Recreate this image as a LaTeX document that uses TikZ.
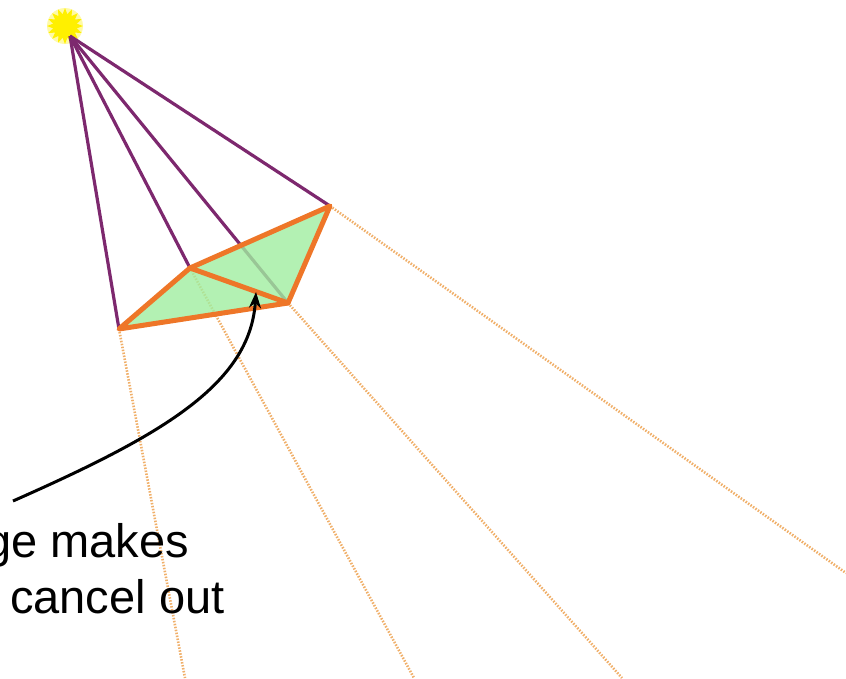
\documentclass[tikz,border=0pt]{standalone}
\usepackage{fontspec}
\setmainfont{Liberation Sans}
\usetikzlibrary{arrows.meta}
\definecolor{raypurple}{RGB}{125,40,110}
\definecolor{edgeorange}{RGB}{238,118,40}
\definecolor{dotorange}{RGB}{240,175,105}
\definecolor{facegreen}{RGB}{160,238,160}
\definecolor{sunyellow}{RGB}{255,240,0}
\tikzset{
  lightray/.style={draw=raypurple, line width=3.2pt},
  shadowray/.style={draw=dotorange, line width=2.6pt, dash pattern=on 1.5pt off 1.5pt},
  faceedge/.style={draw=edgeorange, line width=5pt, line join=round, line cap=round},
  pointer/.style={draw=black, line width=3pt, -{Stealth[length=16pt,width=12pt]}},
  caption/.style={font=\fontsize{47}{56}\selectfont, anchor=base west, inner sep=0pt}
}
\begin{document}
\begin{tikzpicture}[x=1pt,y=-1pt]
\useasboundingbox (0,0) rectangle (846,678);
\clip (0,0) rectangle (846,678);

% light source: a soft glow under a spiky star
\node[inner sep=0pt] (sun) at (65,26) {};
\begin{scope}[shift={(sun)}]
  \fill[sunyellow!35] (0,0) circle (18);
  \fill[sunyellow] (0:18)
    \foreach \a in {11.25,22.5,...,360} {
      -- (\a:{ifthenelse(mod(round(\a/11.25),2)==1,12,18)})
    } -- cycle;
\end{scope}
\coordinate (src) at (70,36);

% mesh vertices
\coordinate (vl) at (119,329);
\coordinate (vm) at (190,268);
\coordinate (vr) at (288,303);
\coordinate (vt) at (330,206);

% shadow rays beyond the mesh
\coordinate (el) at (185,678);
\coordinate (em) at (414,678);
\coordinate (er) at (622,678);
\coordinate (et) at (846,573);
\draw[shadowray] (vl) -- (el);
\draw[shadowray] (vm) -- (em);
\draw[shadowray] (vr) -- (er);
\draw[shadowray] (vt) -- (et);

% rays from the light to the vertices
\draw[lightray] (src) -- (vl);
\draw[lightray] (src) -- (vm);
\draw[lightray] (src) -- (vr);
\draw[lightray] (src) -- (vt);

% the two triangles
\fill[facegreen, fill opacity=0.8] (vl) -- (vm) -- (vt) -- (vr) -- cycle;
\draw[faceedge] (vl) -- (vm) -- (vt) -- (vr) -- cycle;
\draw[faceedge] (vm) -- (vr);

% caption and pointer
\coordinate (tail) at (13,501);
\coordinate (tip) at (256,292);
\draw[pointer] (tail) .. controls (160,436) and (250,385) .. (tip);
\node[caption] (line1) at (-15,557) {ge makes};
\node[caption] (line2) at (10,613) {cancel out};
\end{tikzpicture}
\end{document}
